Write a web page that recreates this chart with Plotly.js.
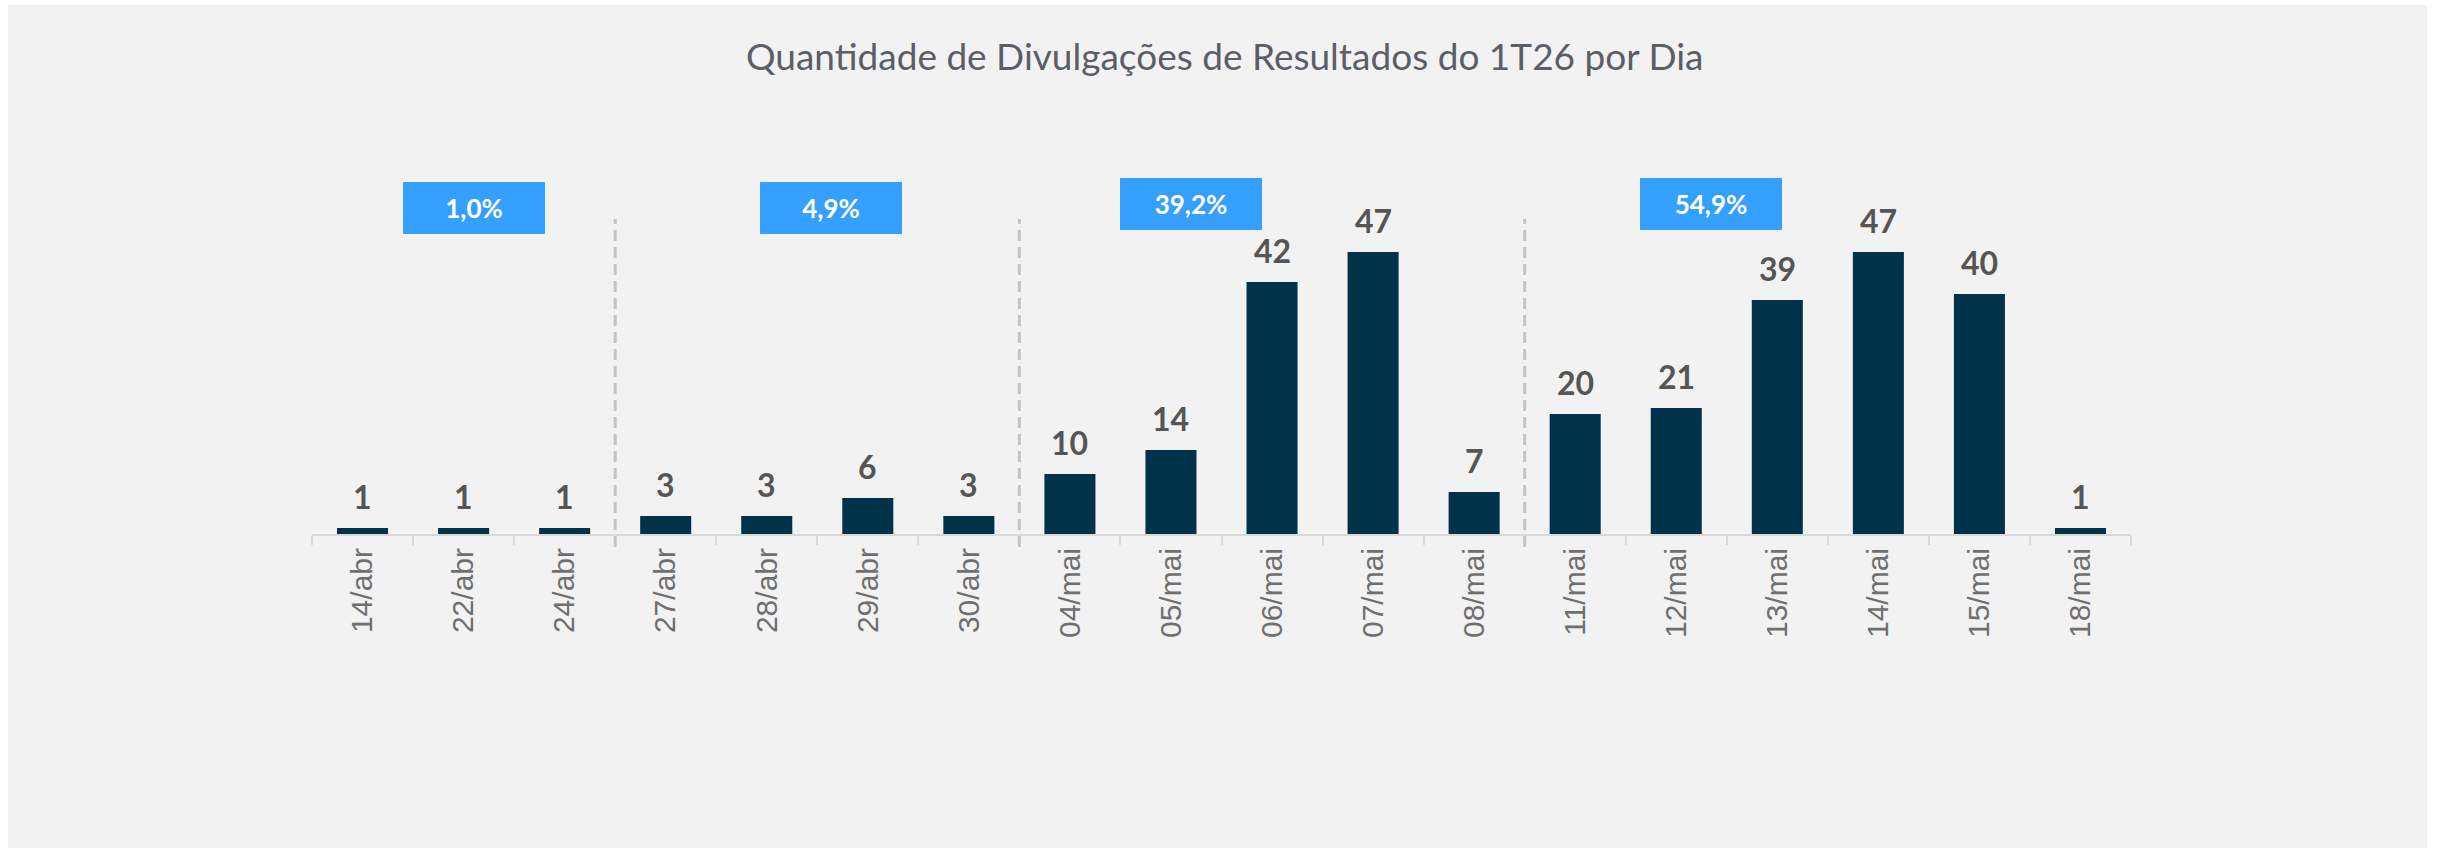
<!DOCTYPE html>
<html><head><meta charset="utf-8">
<script src="https://cdn.plot.ly/plotly-3.0.1.min.js"></script>
<style>
html,body{margin:0;padding:0;background:#ffffff;width:2438px;height:848px;overflow:hidden}
#chart{position:absolute;left:8px;top:5px;width:2419px;height:843px}
</style>
</head><body><div id="chart"></div>
<script>
// ---- data ----
const categories = ['14/abr','22/abr','24/abr','27/abr','28/abr','29/abr','30/abr',
  '04/mai','05/mai','06/mai','07/mai','08/mai',
  '11/mai','12/mai','13/mai','14/mai','15/mai','18/mai'];
const counts = [1,1,1,3,3,6,3,10,14,42,47,7,20,21,39,47,40,1];
const groupSizes = [3,4,5,6];
const groupShares = ['1,0%','4,9%','39,2%','54,9%'];
const chartTitle = 'Quantidade de Divulgações de Resultados do 1T26 por Dia';

// ---- layout-only positions ----
const boxCenters = [1.10, 4.64, 8.20, 13.34];
const boxY = [0.906, 0.906, 0.917, 0.917];

const labelFont = 'Lato, "Open Sans", sans-serif';
const barColor = '#00324A';
const boxColor = '#35A0FF';

const trace = {
  type: 'bar', x: categories, y: counts,
  marker: {color: barColor, line: {width: 0}},
  hoverinfo: 'x+y'
};

const annotations = counts.map((v, i) => ({
  x: categories[i], y: v, xref: 'x', yref: 'y',
  text: String(v), showarrow: false, yanchor: 'bottom', yshift: 10,
  font: {family: labelFont, size: 32, color: '#555555', weight: 'bold'}
}));
groupShares.forEach((s, g) => {
  annotations.push({
    x: boxCenters[g], y: boxY[g], xref: 'x', yref: 'paper',
    text: s, showarrow: false, xanchor: 'center', yanchor: 'middle',
    bgcolor: boxColor, width: 142, height: 52, borderpad: 0, borderwidth: 0,
    font: {family: labelFont, size: 26, color: '#ffffff', weight: 'bold'}
  });
});

const shapes = [];
let acc = 0;
for (let g = 0; g < groupSizes.length - 1; g++) {
  acc += groupSizes[g];
  shapes.push({
    type: 'line', xref: 'x', yref: 'paper',
    x0: acc - 0.5, x1: acc - 0.5, y0: -0.036, y1: 0.875,
    line: {color: '#c4c4c4', width: 3, dash: '11px,6px'}
  });
}

const layout = {
  width: 2419, height: 843,
  paper_bgcolor: '#f2f2f2', plot_bgcolor: 'rgba(0,0,0,0)',
  margin: {l: 304, r: 296, t: 169, b: 314, pad: 0},
  title: {text: chartTitle, x: 0.503, xanchor: 'center', y: 0.9377, yanchor: 'middle',
    xref: 'container', yref: 'container',
    font: {family: labelFont, size: 37, color: '#5b5e66'}},
  bargap: 0.495,
  showlegend: false,
  xaxis: {type: 'category', tickangle: -90, showline: true, linecolor: '#d9d9d9', linewidth: 2,
    ticks: 'outside', tickson: 'boundaries', ticklen: 9, tickwidth: 2, tickcolor: '#d9d9d9',
    showgrid: false, zeroline: false, fixedrange: true,
    tickfont: {family: '"Liberation Sans", Arial, sans-serif', size: 30, color: '#6f6f6f'}},
  yaxis: {visible: false, range: [0, 60], showgrid: false, zeroline: false, fixedrange: true},
  annotations: annotations,
  shapes: shapes
};

Plotly.newPlot('chart', [trace], layout, {displayModeBar: false, staticPlot: true});
</script>
</body></html>
